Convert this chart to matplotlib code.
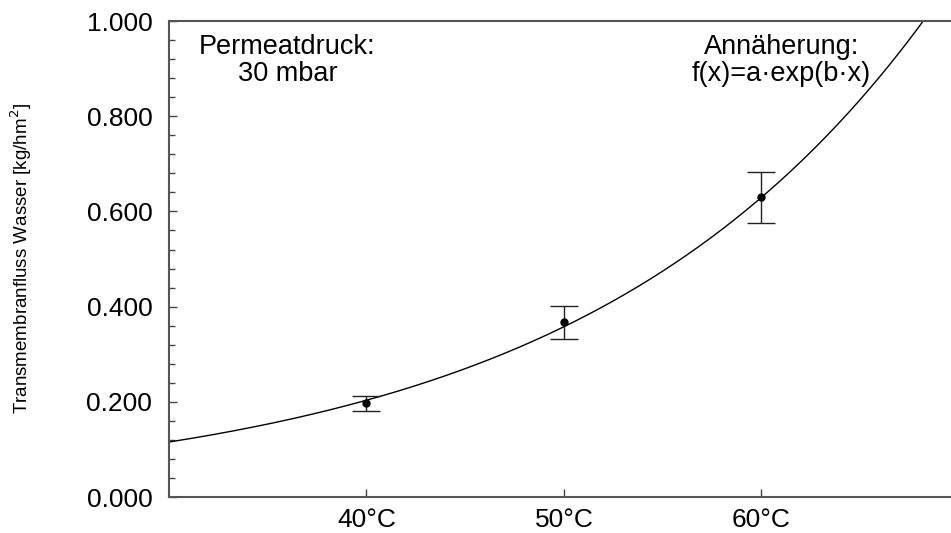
import numpy as np
import matplotlib
matplotlib.use("Agg")
import matplotlib.pyplot as plt
from matplotlib.ticker import MultipleLocator, FormatStrFormatter

# Messwerte
temps = [40, 50, 60]
temp_labels = ["40°C", "50°C", "60°C"]
flux = [0.197, 0.367, 0.630]
flux_lo = [0.181, 0.333, 0.576]
flux_hi = [0.213, 0.401, 0.683]

# Annäherung f(x) = a*exp(b*x)
fit_a = 0.02122
fit_b = 0.0565

plt.rcParams["font.family"] = ["Liberation Sans", "DejaVu Sans"]

fig = plt.figure(figsize=(9.51, 5.33), dpi=100)
ax = fig.add_axes([0.1777, 0.0675, 1.0 - 0.1777, 0.893])

xs = np.linspace(30, 70, 400)
ax.plot(xs, fit_a * np.exp(fit_b * xs), color="black", lw=1.0)

yerr = [np.array(flux) - np.array(flux_lo), np.array(flux_hi) - np.array(flux)]
ax.errorbar(temps, flux, yerr=yerr, fmt="o", color="black", ms=5,
            ecolor="#222222", elinewidth=1.0, capsize=10, capthick=1.0)

ax.set_xlim(30, 69.6)
ax.set_ylim(0, 1.0)
ax.set_xticks(temps)
ax.set_xticklabels(temp_labels)
ax.yaxis.set_major_locator(MultipleLocator(0.2))
ax.yaxis.set_minor_locator(MultipleLocator(0.04))
ax.yaxis.set_major_formatter(FormatStrFormatter("%.3f"))
ax.tick_params(axis="both", direction="in", labelsize=19, length=6,
               width=1.0, color="#444444")
ax.tick_params(axis="y", pad=12)
ax.tick_params(axis="x", pad=8)
ax.tick_params(axis="y", which="minor", direction="in", length=4,
               width=1.0, color="#444444")
ax.spines["right"].set_visible(False)
for s in ("left", "bottom", "top"):
    ax.spines[s].set_color("#555555")
    ax.spines[s].set_linewidth(1.5)

ax.set_ylabel("Transmembranfluss Wasser [kg/hm$^2$]", fontsize=13.5)
ax.yaxis.set_label_coords(-0.172, 0.5)

ax.text(36.0, 0.972, "Permeatdruck:\n30 mbar", ha="center", va="top",
        fontsize=19.5, linespacing=1.05)
ax.text(61.0, 0.972, "Annäherung:\nf(x)=a·exp(b·x)", ha="center", va="top",
        fontsize=19.5, linespacing=1.05)

fig.savefig("out.png", dpi=100)
